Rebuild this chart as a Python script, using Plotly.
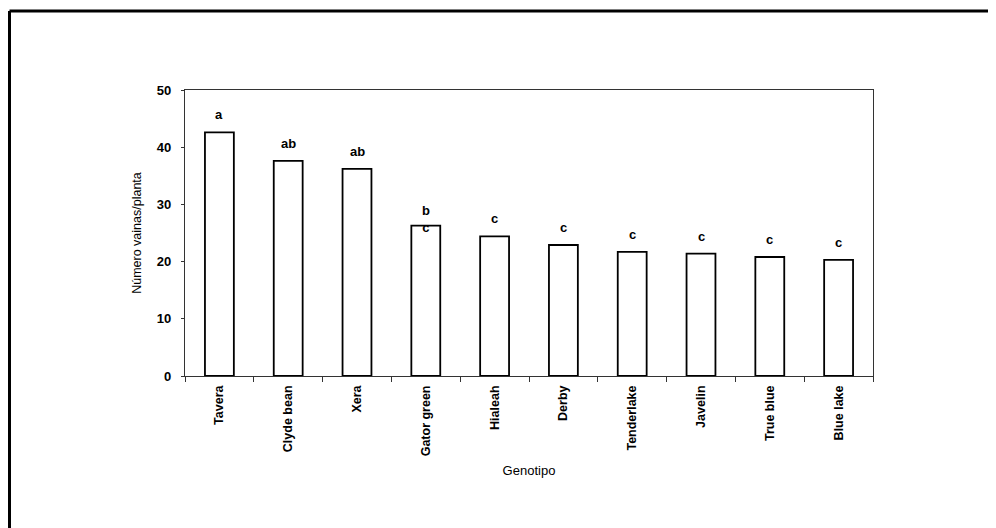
import plotly.graph_objects as go

genotipos = ["Tavera", "Clyde bean", "Xera", "Gator green", "Hialeah", "Derby",
             "Tenderlake", "Javelin", "True blue", "Blue lake"]
vainas = [42.6, 37.6, 36.2, 26.3, 24.4, 22.9, 21.7, 21.4, 20.8, 20.3]
letras = ["a", "ab", "ab", "b<br>c", "c", "c", "c", "c", "c", "c"]

W, H = 996, 528
ML, MR, MT, MB = 177, 131, 82, 160
PW, PH = W - ML - MR, H - MT - MB
FONT = "Liberation Sans, Arial"

fig = go.Figure()
fig.add_trace(go.Bar(
    x=genotipos, y=vainas, width=0.42,
    marker=dict(color="white", line=dict(color="black", width=1.8)),
    hoverinfo="skip",
))

for g, v, l in zip(genotipos, vainas, letras):
    stacked = "<br>" in l
    fig.add_annotation(
        x=g, y=v, text="<b>%s</b>" % l, showarrow=False,
        yanchor="bottom", yshift=(-11 if stacked else 8),
        font=dict(family=FONT, size=13, color="black"),
    )

# outer frame (top and left edges of the scanned page box)
top_y = (H - MB - 3) / PH
left_x = (1.5 - ML) / PW
fig.add_shape(type="line", xref="paper", yref="paper",
              x0=left_x, x1=(W - ML) / PW, y0=top_y, y1=top_y,
              line=dict(color="black", width=3))
fig.add_shape(type="line", xref="paper", yref="paper",
              x0=left_x, x1=left_x, y0=top_y, y1=-MB / PH,
              line=dict(color="black", width=3))

fig.update_layout(
    width=W, height=H,
    margin=dict(l=ML, r=MR, t=MT, b=MB),
    paper_bgcolor="white", plot_bgcolor="white",
    showlegend=False,
    font=dict(family=FONT, color="black"),
    xaxis=dict(
        tickangle=-90, tickfont=dict(size=12.5, family=FONT),
        tickprefix="<b>", ticksuffix="</b>\u00a0",
        showline=True, linecolor="#333", linewidth=1, mirror=True,
        ticks="outside", ticklen=5, tickcolor="#333", tickson="boundaries",
        title=dict(text="Genotipo", font=dict(size=13), standoff=10),
        showgrid=False,
    ),
    yaxis=dict(
        range=[0, 50], dtick=10,
        tickfont=dict(size=13), tickprefix="<b>", ticksuffix="</b>\u00a0\u00a0",
        showline=True, linecolor="#333", linewidth=1, mirror=True,
        ticks="outside", ticklen=3, tickcolor="#333",
        title=dict(text="Número vainas/planta", font=dict(size=12.5), standoff=12),
        showgrid=False, zeroline=False,
    ),
)

fig.write_html("out.html")
